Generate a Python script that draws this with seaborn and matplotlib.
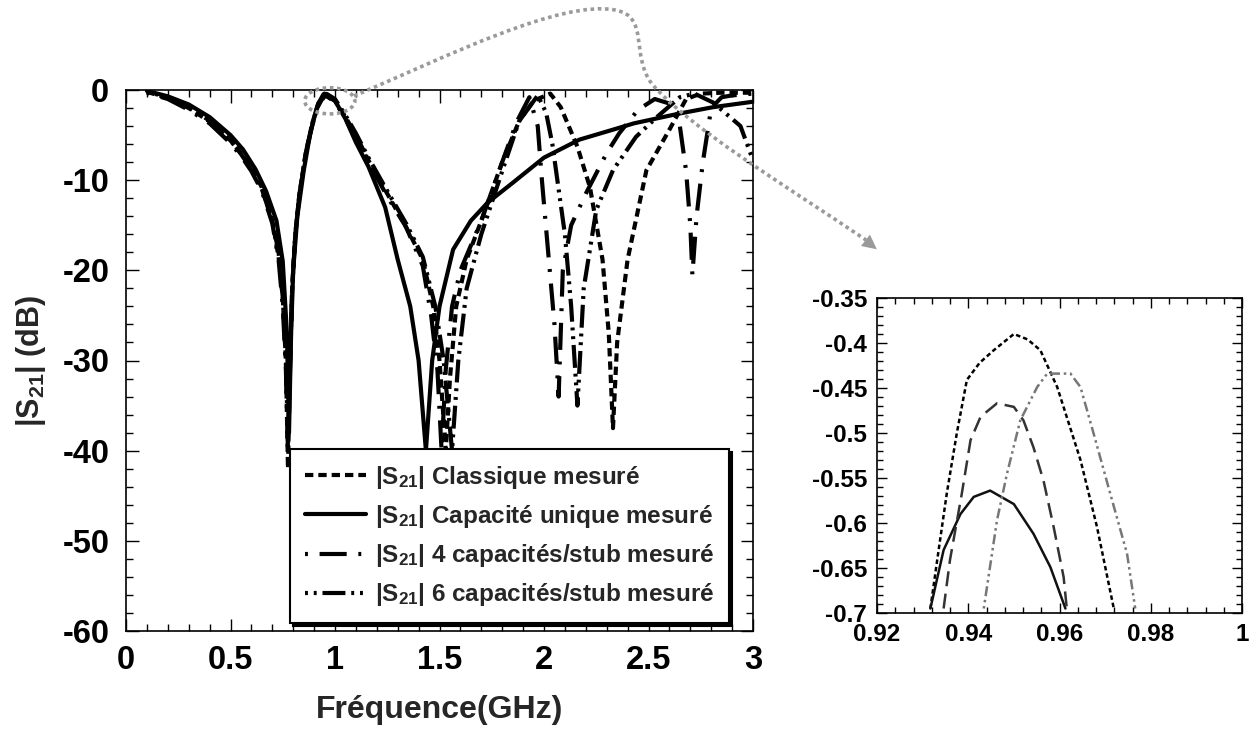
import numpy as np
import pandas as pd
import matplotlib
matplotlib.use("Agg")
import matplotlib.pyplot as plt
import seaborn as sns
from matplotlib.patches import Ellipse, PathPatch, FancyArrowPatch
from matplotlib.path import Path
from matplotlib.ticker import MultipleLocator, FuncFormatter

# %%
sns.set_theme(style="ticks")
plt.rcParams['font.family'] = ['Liberation Sans', 'DejaVu Sans']
plt.rcParams['font.weight'] = 'bold'
plt.rcParams['axes.unicode_minus'] = False
plt.rcParams['mathtext.fontset'] = 'custom'
plt.rcParams['mathtext.bf'] = 'Liberation Sans:bold'
plt.rcParams['mathtext.rm'] = 'Liberation Sans:bold'
plt.rcParams['mathtext.default'] = 'bf'

# %% data : mesures |S21| (dB) en fonction de la fréquence (GHz)
freq_classique = [0.10, 0.20, 0.30, 0.40, 0.50, 0.55, 0.60, 0.65, 0.70, 0.73,
                  0.75, 0.765, 0.775, 0.785, 0.795, 0.81, 0.83, 0.86, 0.89, 0.92,
                  0.95, 1.00, 1.05, 1.10, 1.16, 1.25, 1.34, 1.42, 1.47, 1.50,
                  1.53, 1.55, 1.58, 1.63, 1.70, 1.80, 1.88, 1.95, 2.03, 2.08,
                  2.16, 2.22, 2.28, 2.31, 2.33, 2.35, 2.40, 2.49, 2.60, 2.68,
                  2.75, 2.85, 3.00]
s21_classique = [-0.2, -0.9, -2.0, -3.5, -5.6, -7.0, -8.6, -10.8, -14.5, -18.5,
                 -23, -30, -42, -30, -22, -16, -11.5, -7, -3.8, -1.5,
                 -0.4, -1.2, -3, -5, -7.8, -11.5, -15.2, -18.8, -24, -30,
                 -40, -32, -24, -18.8, -14.5, -8, -3.5, -1.2, -0.4, -1.9,
                 -6.3, -10.8, -18.8, -27, -37.5, -28, -18.8, -8.9, -4.4, -1.0,
                 -0.4, -0.3, -0.3]

freq_unique = [0.10, 0.20, 0.30, 0.40, 0.50, 0.56, 0.62, 0.67, 0.72, 0.75,
               0.77, 0.78, 0.79, 0.80, 0.82, 0.85, 0.88, 0.91, 0.95, 1.00,
               1.05, 1.10, 1.16, 1.24, 1.30, 1.36, 1.40, 1.435, 1.465, 1.50,
               1.565, 1.65, 1.73, 1.85, 2.00, 2.17, 2.33, 2.43, 2.65, 2.81,
               3.00]
s21_unique = [-0.1, -0.7, -1.6, -3.0, -5.0, -6.6, -8.8, -11.2, -14.5, -19,
              -27, -38, -27, -20, -14, -9, -5, -2.2, -0.5, -1.2,
              -3.2, -5.8, -8.5, -13, -18.8, -24, -30, -40, -30, -24,
              -17.7, -14.5, -12.5, -10.3, -7.5, -5.5, -4.4, -3.7, -2.6, -1.9,
              -1.3]

freq_4cap = [0.10, 0.20, 0.30, 0.40, 0.50, 0.55, 0.60, 0.65, 0.70, 0.73,
             0.75, 0.765, 0.775, 0.785, 0.795, 0.81, 0.83, 0.86, 0.89, 0.92,
             0.945, 1.00, 1.05, 1.10, 1.16, 1.25, 1.34, 1.42, 1.46, 1.49,
             1.51, 1.53, 1.56, 1.60, 1.70, 1.80, 1.87, 1.93, 1.97, 1.99,
             2.02, 2.05, 2.07, 2.09, 2.13, 2.20, 2.30, 2.36, 2.45, 2.53,
             2.60, 2.65, 2.68, 2.70, 2.71, 2.73, 2.76, 2.80, 2.85, 2.90,
             3.00]
s21_4cap = [-0.3, -1.0, -2.2, -3.7, -5.9, -7.3, -9.0, -11.2, -14.8, -18.8,
            -24, -31, -40, -31, -22, -16, -11.5, -7, -3.8, -1.5,
            -0.47, -1.3, -3.2, -5.3, -8, -11.8, -15.2, -19.5, -25, -31,
            -40, -31, -24, -20, -14.5, -8, -3.5, -0.8, -4, -10,
            -18, -26, -34, -20, -15, -11.5, -7, -4.8, -2.2, -1.0,
            -1.5, -4, -9, -15, -20.5, -14, -8, -2, -0.8, -0.6,
            -0.4]

freq_6cap = [0.10, 0.20, 0.30, 0.40, 0.50, 0.55, 0.60, 0.65, 0.70, 0.73,
             0.75, 0.765, 0.775, 0.785, 0.795, 0.81, 0.83, 0.86, 0.89, 0.92,
             0.96, 1.00, 1.05, 1.10, 1.16, 1.25, 1.34, 1.42, 1.48, 1.52,
             1.56, 1.59, 1.63, 1.70, 1.80, 1.88, 1.97, 2.01, 2.04, 2.07,
             2.10, 2.13, 2.16, 2.19, 2.25, 2.33, 2.44, 2.54, 2.65, 2.72,
             2.81, 2.94, 3.00]
s21_6cap = [-0.2, -0.8, -1.9, -3.4, -5.6, -7.1, -8.8, -11, -14.5, -18,
            -23, -30, -39, -30, -22, -16, -11.5, -7.2, -4, -1.6,
            -0.43, -1.0, -2.8, -4.8, -7.5, -11.2, -14.8, -18.5, -24, -30,
            -40, -30, -22, -16, -9, -3.5, -0.6, -2.5, -6, -11,
            -16, -24, -35, -22, -13.3, -8.9, -5.2, -3, -0.8, -0.4,
            -1.4, -4, -7.8]

# zoom autour du pic à 0.95 GHz
zf_classique = [0.9317, 0.9332, 0.9353, 0.9375, 0.9397, 0.9425, 0.9456, 0.950,
                0.9530, 0.9558, 0.9595, 0.9646, 0.9682, 0.9719]
zs_classique = [-0.695, -0.641, -0.567, -0.50, -0.441, -0.422, -0.408, -0.390,
                -0.396, -0.408, -0.449, -0.530, -0.604, -0.695]
zf_unique = [0.9317, 0.9346, 0.9383, 0.9412, 0.9448, 0.9500, 0.9543, 0.958, 0.9613]
zs_unique = [-0.695, -0.630, -0.590, -0.571, -0.564, -0.579, -0.612, -0.649, -0.695]
zf_4cap = [0.9346, 0.936, 0.9386, 0.9405, 0.9427, 0.9463, 0.950, 0.9521,
           0.9543, 0.9565, 0.9587, 0.9609, 0.9616]
zs_4cap = [-0.695, -0.641, -0.567, -0.508, -0.482, -0.467, -0.471, -0.486,
           -0.516, -0.553, -0.604, -0.660, -0.695]
zf_6cap = [0.9434, 0.9463, 0.9485, 0.9514, 0.9551, 0.9573, 0.9624, 0.9646,
           0.9675, 0.9711, 0.9748, 0.9766]
zs_6cap = [-0.695, -0.597, -0.545, -0.486, -0.449, -0.434, -0.434, -0.449,
           -0.501, -0.567, -0.634, -0.695]

labels = [r'|S$_{21}$| Classique mesuré',
          r'|S$_{21}$| Capacité unique mesuré',
          r'|S$_{21}$| 4 capacités/stub mesuré',
          r'|S$_{21}$| 6 capacités/stub mesuré']

# %%
W, H = 1257, 730
fig = plt.figure(figsize=(W / 100, H / 100), dpi=100)
ax = fig.add_axes([126 / W, 1 - 631 / H, 627 / W, 541 / H])
axi = fig.add_axes([877 / W, 1 - 613 / H, 365 / W, 315 / H])

styles = [(0, (2.0, 1.2)),
          '-',
          (0, (0.7, 2.8, 6.5, 2.8)),
          (0, (0.7, 1.4, 0.7, 1.4, 5.5, 1.4))]

main_series = [(freq_classique, s21_classique), (freq_unique, s21_unique),
               (freq_4cap, s21_4cap), (freq_6cap, s21_6cap)]
for (f, s), ls, lab in zip(main_series, styles, labels):
    sns.lineplot(x=f, y=s, ax=ax, color='black', lw=3.0, linestyle=ls,
                 label=lab, sort=False, estimator=None)

ax.set_xlim(0, 3)
ax.set_ylim(-60, 0)
ax.xaxis.set_major_locator(MultipleLocator(0.5))
ax.xaxis.set_minor_locator(MultipleLocator(0.1))
ax.yaxis.set_major_locator(MultipleLocator(10))
ax.yaxis.set_minor_locator(MultipleLocator(2))
ax.xaxis.set_major_formatter(FuncFormatter(lambda v, p: f'{v:g}'))
ax.yaxis.set_major_formatter(FuncFormatter(lambda v, p: f'{v:g}'))
ax.tick_params(which='both', direction='in', top=True, right=True, width=1,
               colors='black', labelsize=23.5)
ax.tick_params(axis='y', which='major', length=9, pad=12)
ax.tick_params(axis='x', which='major', length=9, pad=10)
ax.tick_params(which='minor', length=5)
for sp in ax.spines.values():
    sp.set_color('black')
    sp.set_linewidth(1.2)
ax.set_xlabel('Fréquence(GHz)', fontsize=23, fontweight='bold', labelpad=14)
ax.set_ylabel(r'|S$_{21}$| (dB)', fontsize=22, fontweight='bold', labelpad=10)

leg = ax.legend(loc='lower right', bbox_to_anchor=(0.962, 0.015),
                fontsize=17.5, frameon=True, fancybox=False,
                shadow={'color': 'black', 'alpha': 1.0},
                handlelength=2.5, handletextpad=0.4, labelspacing=0.5,
                borderpad=0.6, borderaxespad=0)
leg.get_frame().set_edgecolor('black')
leg.get_frame().set_linewidth(1.5)
leg.get_frame().set_facecolor('white')
leg.get_frame().set_alpha(1)

# %% encart
zoom_series = [(zf_classique, zs_classique, 'black', (0, (1.8, 1.2))),
               (zf_unique, zs_unique, '#111111', '-'),
               (zf_4cap, zs_4cap, '#333333', (0, (6, 3))),
               (zf_6cap, zs_6cap, '#777777', (0, (1, 1.5, 1, 1.5, 4, 1.5)))]
for f, s, c, ls in zoom_series:
    sns.lineplot(x=f, y=s, ax=axi, color=c, lw=1.8, linestyle=ls,
                 sort=False, estimator=None, legend=False)

axi.set_xlim(0.92, 1.0)
axi.set_ylim(-0.7, -0.35)
axi.xaxis.set_major_locator(MultipleLocator(0.02))
axi.xaxis.set_minor_locator(MultipleLocator(0.004))
axi.yaxis.set_major_locator(MultipleLocator(0.05))
axi.yaxis.set_minor_locator(MultipleLocator(0.01))
axi.xaxis.set_major_formatter(FuncFormatter(lambda v, p: f'{round(v, 2):g}'))
axi.yaxis.set_major_formatter(FuncFormatter(lambda v, p: f'{round(v, 2):g}'))
axi.tick_params(which='both', direction='in', top=True, right=True, width=1,
                colors='black', labelsize=17.5, pad=7)
axi.tick_params(which='major', length=7)
axi.tick_params(which='minor', length=4)
for sp in axi.spines.values():
    sp.set_color('black')
    sp.set_linewidth(1.2)
axi.set_xlabel('')
axi.set_ylabel('')

# %% flèche pointillée grise vers l'encart
gray = '#9a9a9a'
ell = Ellipse((0.975, -1.2), width=0.24, height=2.9, fill=False, ec=gray,
              lw=2.6, ls=(0, (1, 1)), clip_on=False, zorder=5)
ax.add_patch(ell)


def px(x, y):
    return (x / W, 1 - y / H)


verts = [px(354, 96), px(450, 55), px(560, 0), px(615, 10),
         px(650, 16), px(630, 55), px(652, 84),
         px(690, 128), px(780, 182), px(866, 240)]
codes = [Path.MOVETO] + [Path.CURVE4] * 9
fig.patches.append(PathPatch(Path(verts, codes), transform=fig.transFigure,
                             fill=False, ec=gray, lw=2.6, ls=(0, (1, 1))))
fig.patches.append(FancyArrowPatch(px(860, 236), px(879, 251),
                                   transform=fig.transFigure,
                                   arrowstyle='-|>', mutation_scale=26,
                                   color=gray, lw=0))

fig.savefig('out.png', dpi=100)
